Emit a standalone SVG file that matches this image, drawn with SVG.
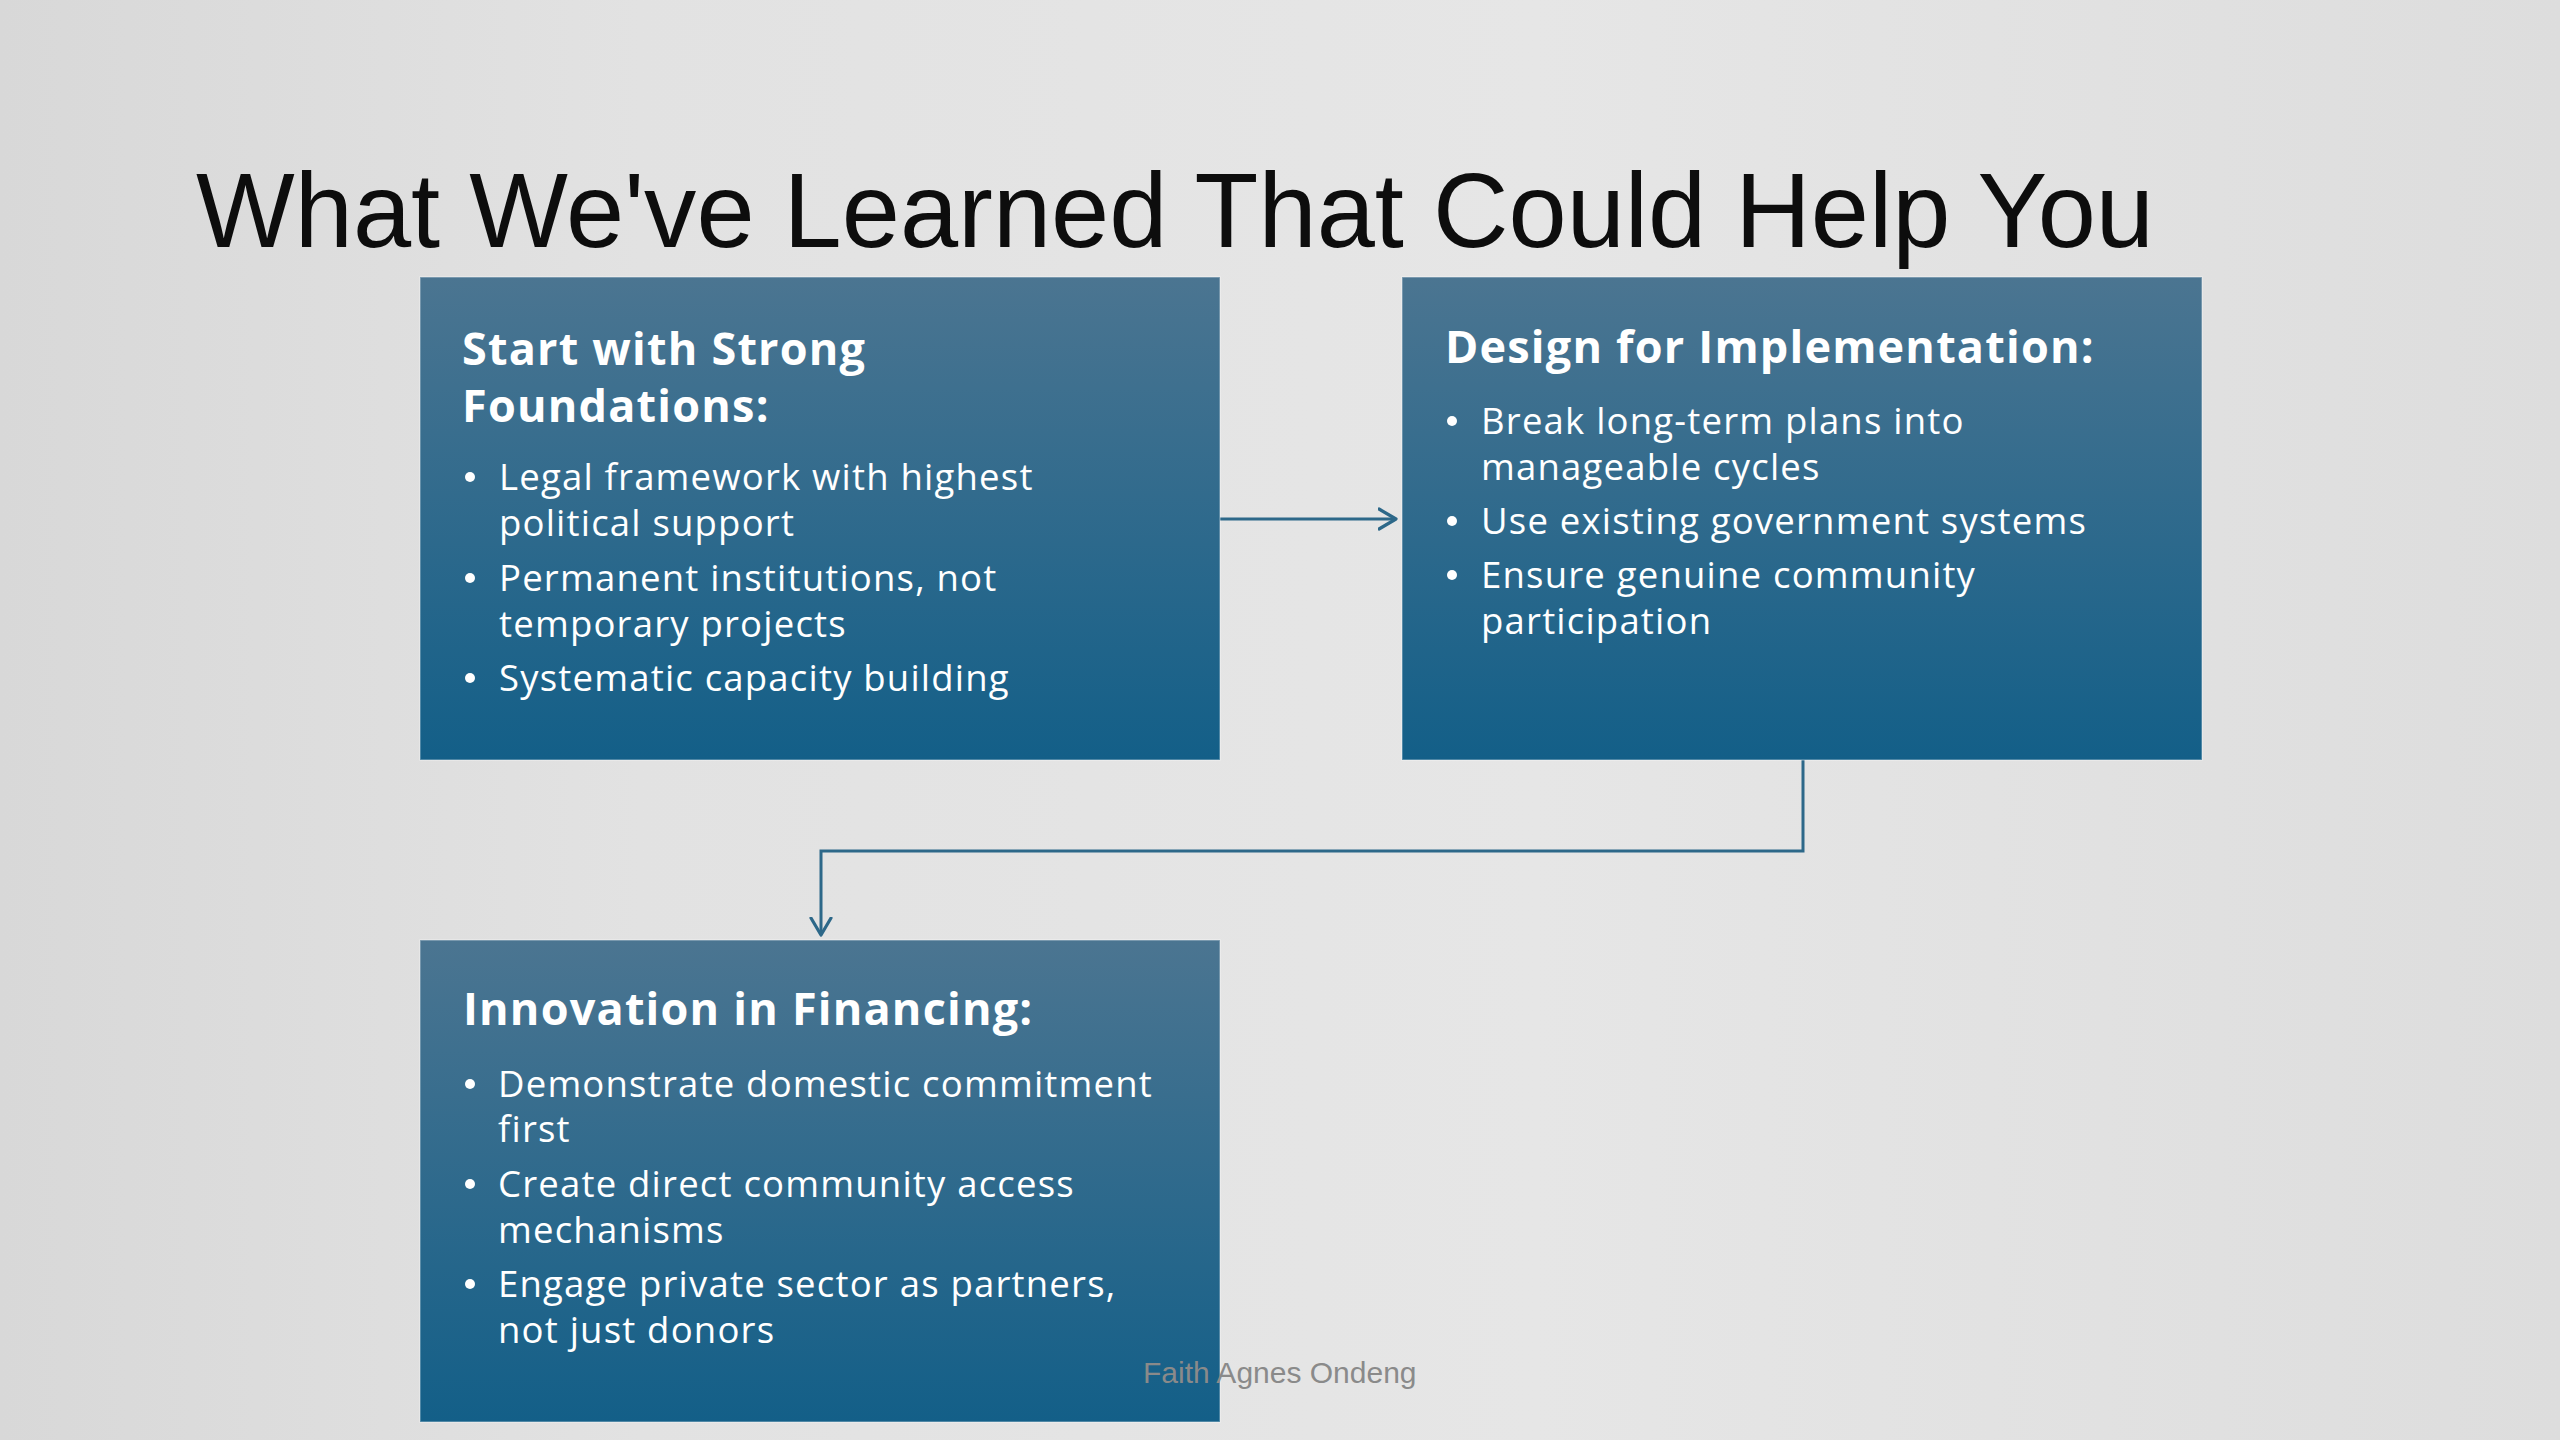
<svg xmlns="http://www.w3.org/2000/svg" width="2560" height="1440" viewBox="0 0 2560 1440">
  <defs>
    <linearGradient id="bg" x1="0" y1="0" x2="1" y2="0">
      <stop offset="0" stop-color="#d8d8d8"/>
      <stop offset="0.25" stop-color="#e2e2e2"/>
      <stop offset="0.6" stop-color="#e6e6e6"/>
      <stop offset="1" stop-color="#dddddd"/>
    </linearGradient>
    <linearGradient id="boxfill" x1="0" y1="0" x2="0" y2="1">
      <stop offset="0" stop-color="#4b7591"/>
      <stop offset="1" stop-color="#135f88"/>
    </linearGradient>
    <marker id="chev" viewBox="0 0 20 24" markerWidth="20" markerHeight="24" refX="18" refY="12" orient="auto" markerUnits="userSpaceOnUse">
      <path d="M1,2 L18,12 L1,22" fill="none" stroke="#2d6889" stroke-width="3.2" stroke-linecap="round" stroke-linejoin="round"/>
    </marker>
    <style>
      .box { fill: url(#boxfill); stroke: #ffffff; stroke-opacity: 0.35; stroke-width: 1.5; }
      .head { font-family: "Open Sans", "Liberation Sans", sans-serif; font-weight: 700; font-size: 45px; fill: #ffffff; letter-spacing: 1.2px; }
      .item { font-family: "Open Sans", "Liberation Sans", sans-serif; font-weight: 400; font-size: 36.5px; fill: #ffffff; letter-spacing: 1.2px; }
      .dot { fill: #ffffff; }
      .conn { fill: none; stroke: #2d6889; stroke-width: 3; }
      .title { font-family: "Liberation Sans", Arial, sans-serif; font-size: 106px; fill: #0d0d0d; }
      .footer { font-family: "Liberation Sans", Arial, sans-serif; font-size: 30px; fill: #8a8a8a; }
    </style>
  </defs>

  <rect x="0" y="0" width="2560" height="1440" fill="url(#bg)"/>

  <text class="title" x="196" y="247" textLength="1958" lengthAdjust="spacingAndGlyphs">What We've Learned That Could Help You</text>

  <g id="connectors">
    <line class="conn" x1="1220" y1="519" x2="1396" y2="519" marker-end="url(#chev)"/>
    <polyline class="conn" points="1803,760 1803,851 821,851 821,935" marker-end="url(#chev)"/>
  </g>

  <g id="node-foundations">
    <rect class="box" x="420" y="277" width="800" height="483"/>
    <text class="head" x="462" y="365">Start with Strong</text>
    <text class="head" x="462" y="422">Foundations:</text>
    <circle class="dot" cx="470" cy="477" r="5"/>
    <text class="item" x="499" y="490">Legal framework with highest</text>
    <text class="item" x="499" y="536">political support</text>
    <circle class="dot" cx="470" cy="578" r="5"/>
    <text class="item" x="499" y="591">Permanent institutions, not</text>
    <text class="item" x="499" y="637">temporary projects</text>
    <circle class="dot" cx="470" cy="678" r="5"/>
    <text class="item" x="499" y="691">Systematic capacity building</text>
  </g>

  <g id="node-implementation">
    <rect class="box" x="1402" y="277" width="800" height="483"/>
    <text class="head" x="1445" y="363">Design for Implementation:</text>
    <circle class="dot" cx="1452" cy="421" r="5"/>
    <text class="item" x="1481" y="434">Break long-term plans into</text>
    <text class="item" x="1481" y="480">manageable cycles</text>
    <circle class="dot" cx="1452" cy="521" r="5"/>
    <text class="item" x="1481" y="534">Use existing government systems</text>
    <circle class="dot" cx="1452" cy="575" r="5"/>
    <text class="item" x="1481" y="588">Ensure genuine community</text>
    <text class="item" x="1481" y="634">participation</text>
  </g>

  <g id="node-financing">
    <rect class="box" x="420" y="940" width="800" height="482"/>
    <text class="head" x="463" y="1025">Innovation in Financing:</text>
    <circle class="dot" cx="470" cy="1084" r="5"/>
    <text class="item" x="498" y="1097">Demonstrate domestic commitment</text>
    <text class="item" x="498" y="1142">first</text>
    <circle class="dot" cx="470" cy="1184" r="5"/>
    <text class="item" x="498" y="1197">Create direct community access</text>
    <text class="item" x="498" y="1243">mechanisms</text>
    <circle class="dot" cx="470" cy="1284" r="5"/>
    <text class="item" x="498" y="1297">Engage private sector as partners,</text>
    <text class="item" x="498" y="1343">not just donors</text>
  </g>

  <text class="footer" x="1143" y="1383">Faith Agnes Ondeng</text>
</svg>
